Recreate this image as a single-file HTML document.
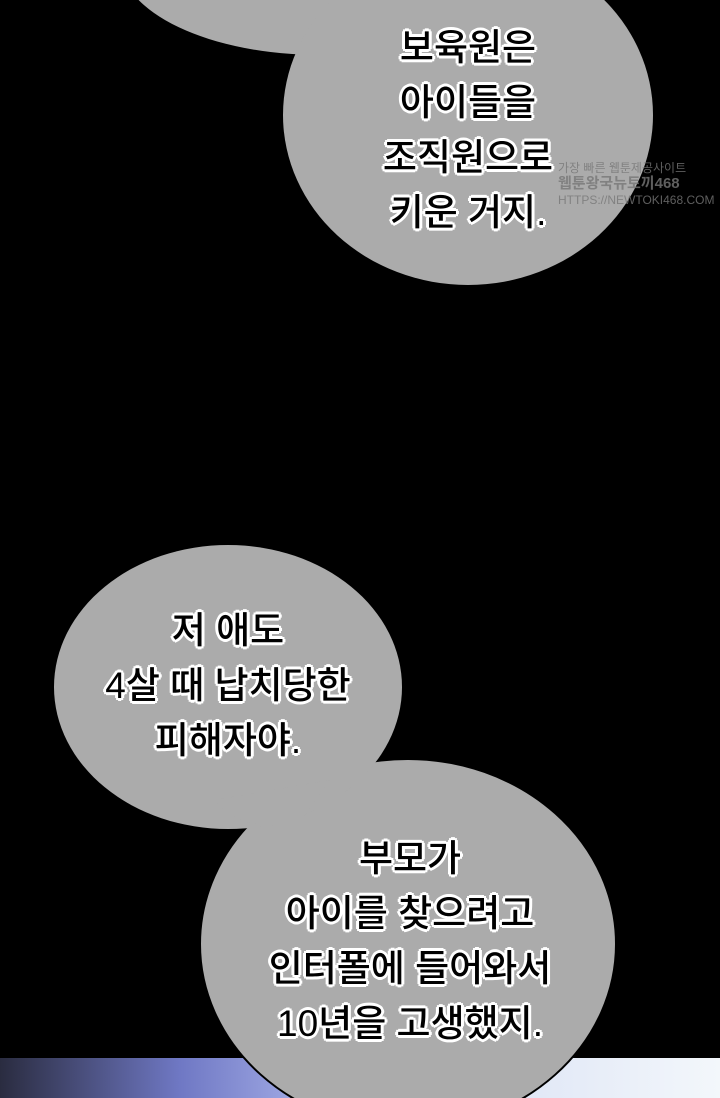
<!DOCTYPE html>
<html><head><meta charset="utf-8"><style>
html,body{margin:0;padding:0;}
body{width:720px;height:1098px;background:#000;position:relative;overflow:hidden;font-family:"Liberation Sans","Noto Sans CJK KR","NanumGothic",sans-serif;}
.bg{position:absolute;left:0;top:1058px;width:720px;height:40px;background:linear-gradient(90deg,#2a2c40 0%,#6f78c4 25%,#a9b2ea 45%,#dfe6f6 70%,#f3f7fb 100%);}
svg{position:absolute;left:0;top:0;}
.t{position:absolute;text-align:center;font-size:37px;line-height:55px;color:#000;font-weight:500;
 text-shadow:2px 0 #fff,-2px 0 #fff,0 2px #fff,0 -2px #fff,2px 2px #fff,-2px -2px #fff,2px -2px #fff,-2px 2px #fff,3px 0 #fff,-3px 0 #fff,0 3px #fff,0 -3px #fff;}
.wm{position:absolute;left:558px;top:160px;color:#777;font-size:12px;line-height:16px;opacity:.8;}
</style></head><body>
<div class="bg"></div>
<svg width="720" height="1098">
<ellipse cx="320" cy="-40" rx="200" ry="95" fill="#ababab"/>
<ellipse cx="468" cy="115" rx="185" ry="170" fill="#ababab"/>
<ellipse cx="408" cy="944" rx="208" ry="185" fill="#ababab" stroke="#000" stroke-width="2"/>
<ellipse cx="228" cy="687" rx="174" ry="142" fill="#ababab"/>
<path d="M215 800 Q240 834 300 822 L330 780 Z" fill="#ababab"/>
</svg>
<div class="t" style="left:318px;top:20px;width:300px;">보육원은<br>아이들을<br>조직원으로<br>키운 거지.</div>
<div class="wm">가장 빠른 웹툰제공사이트<br><b style="font-size:15px">웹툰왕국뉴토끼468</b><br>HTTPS://NEWTOKI468.COM</div>
<div class="t" style="left:78px;top:603px;width:300px;">저 애도<br>4살 때 납치당한<br>피해자야.</div>
<div class="t" style="left:250px;top:831px;width:320px;">부모가<br>아이를 찾으려고<br>인터폴에 들어와서<br>10년을 고생했지.</div>
</body></html>
